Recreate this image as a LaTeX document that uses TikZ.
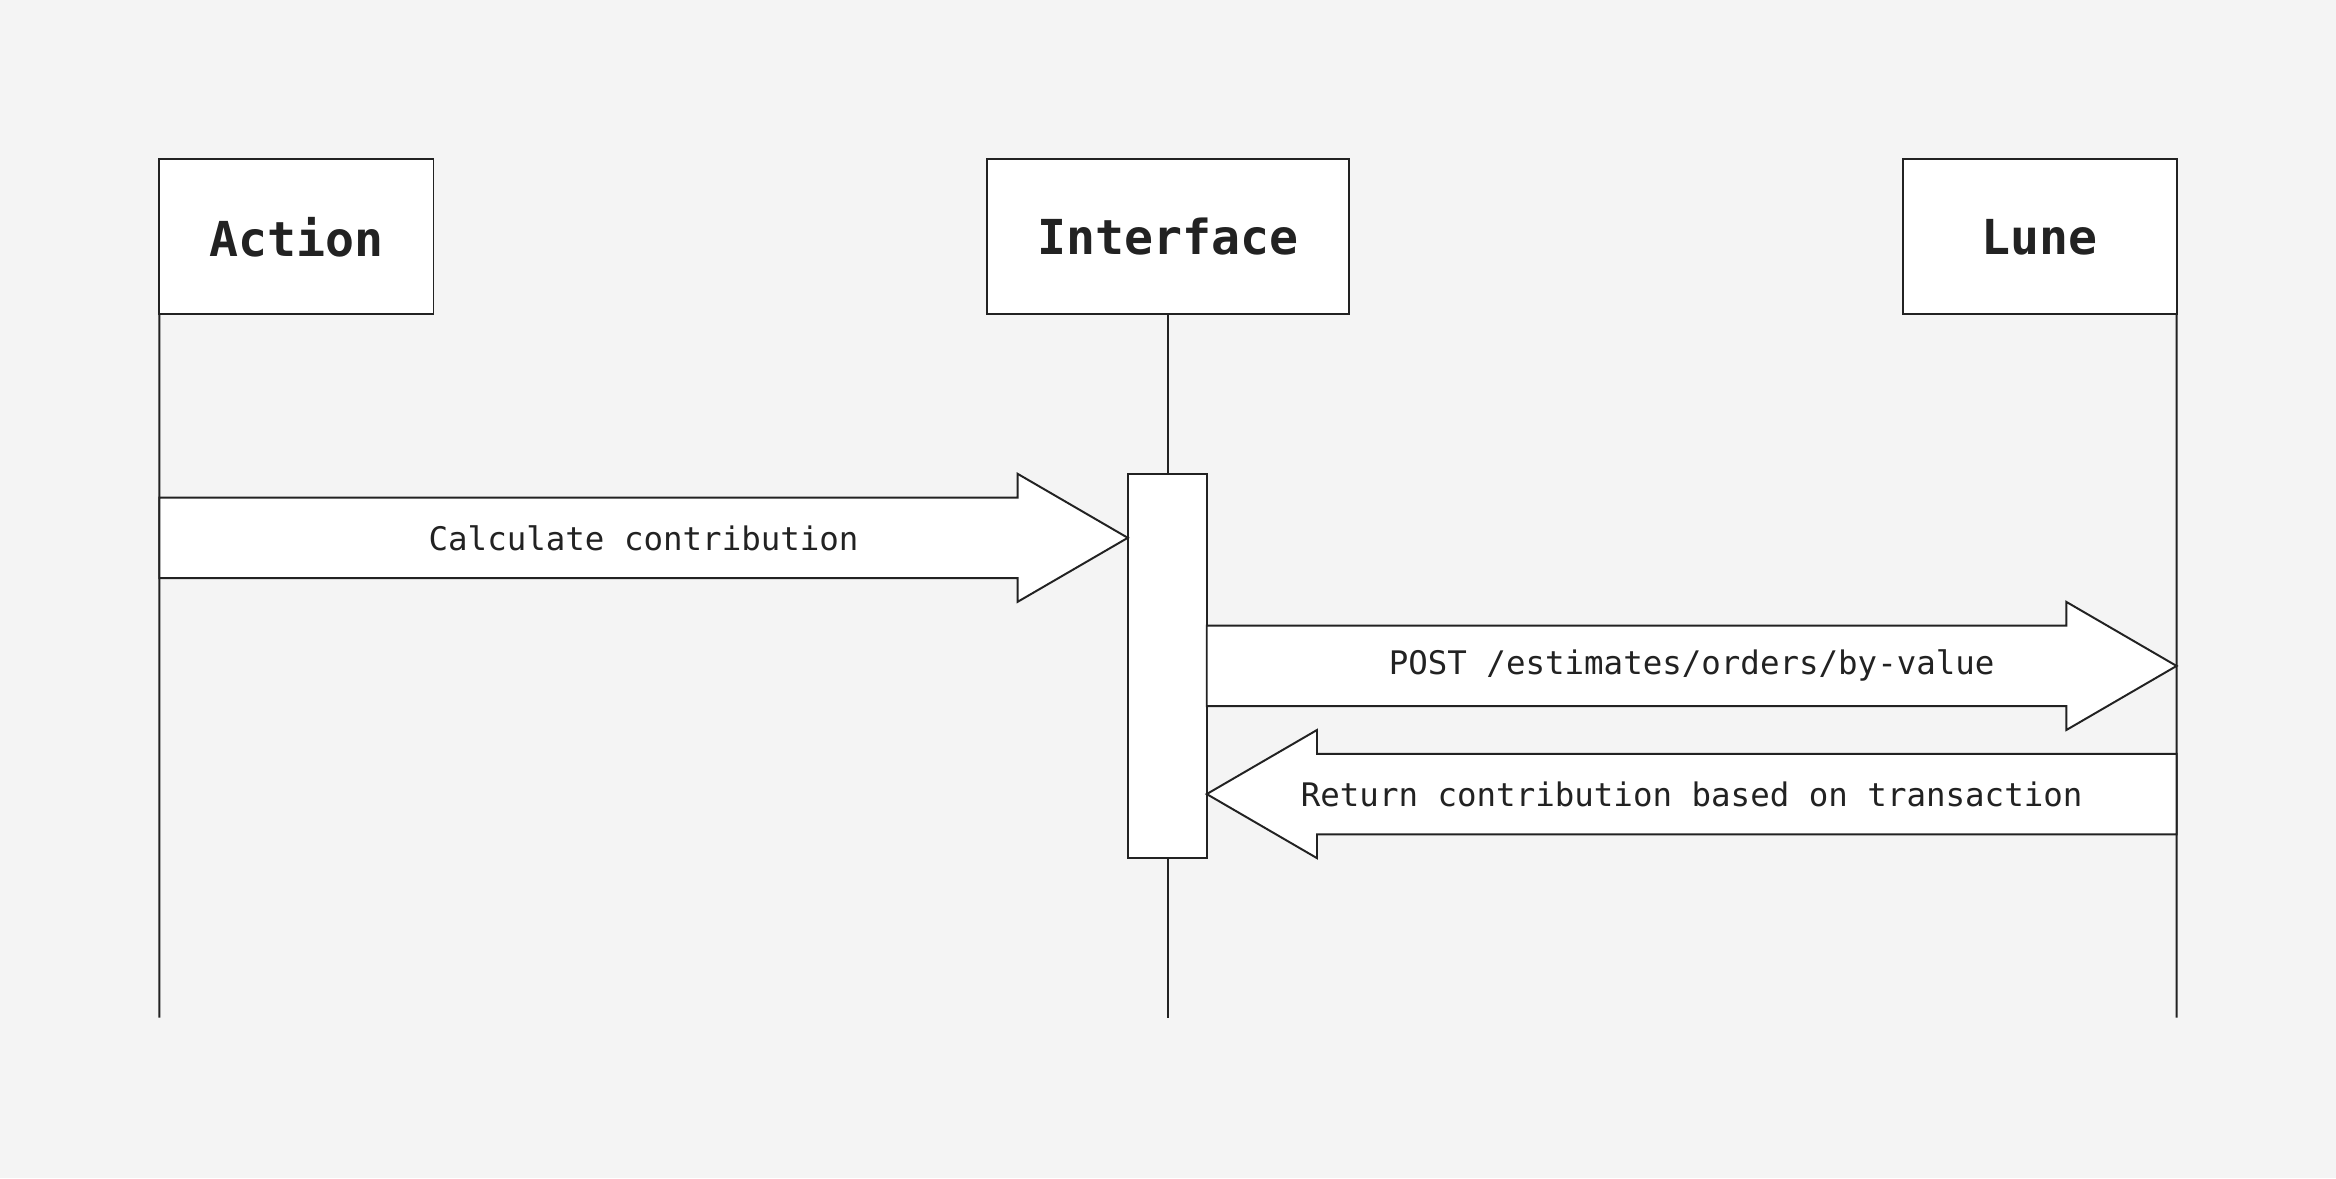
\documentclass[tikz,border=0pt]{standalone}
\usepackage{fontspec}
\newfontfamily\seqfont{DejaVu Sans Mono}
\usetikzlibrary{calc}
\definecolor{paper}{HTML}{F4F4F4}
\definecolor{ink}{HTML}{222222}
\tikzstyle{actor}=[rectangle,draw=ink,fill=white,line width=0.75pt,outer sep=0pt,minimum height=2.08cm,text=ink,font=\seqfont\bfseries\fontsize{18.4}{22}\selectfont]
\tikzstyle{lifeline}=[draw=ink,line width=0.75pt]
\tikzstyle{message}=[draw=ink,fill=white,line width=0.75pt,line join=miter]
\tikzstyle{msgtext}=[text=ink,inner sep=0pt,font=\seqfont\fontsize{12.4}{15}\selectfont]

\begin{document}
\begin{tikzpicture}[x=0.02cm, y=-0.02cm]
    \fill[paper] (0,0) rectangle (1568,791);
    % participants
    \node[actor, minimum width=3.68cm] (action) at (199,159) {Action};
    \node[actor, minimum width=4.86cm] (interface) at (784,159) {Interface};
    \node[actor, minimum width=3.68cm] (lune) at (1369,159) {Lune};
    \coordinate (action end) at (107,683);
    \coordinate (interface end) at (784,683);
    \coordinate (lune end) at (1461,683);
    % lifelines
    \draw[lifeline] (action.south west) -- (action end);
    \draw[lifeline] (lune.south east) -- (lune end);
    \draw[lifeline] (interface.south) -- (interface end);
    \node[actor, minimum width=1.06cm, minimum height=5.16cm] (activation) at (783.5,447) {};
    % messages
    \coordinate (calc src) at (action.south west |- 0,361);
    \coordinate (calc dst) at (activation.west |- 0,361);
    \coordinate (post src) at (activation.east |- 0,447);
    \coordinate (post dst) at (lune.south east |- 0,447);
    \coordinate (ret src) at (lune.south east |- 0,533);
    \coordinate (ret dst) at (activation.east |- 0,533);
    \foreach \from/\to/\dir/\msg [count=\i] in {
        calc src/calc dst/1/{Calculate contribution},
        post src/post dst/1/{POST /estimates/orders/by-value},
        ret src/ret dst/-1/{Return contribution based on transaction}} {
        \draw[message] ($(\from)+(0,-27)$) -- ($(\to)+({-74*\dir},-27)$) -- ($(\to)+({-74*\dir},-43)$)
            -- (\to) -- ($(\to)+({-74*\dir},43)$) -- ($(\to)+({-74*\dir},27)$) -- ($(\from)+(0,27)$) -- cycle;
        \node[msgtext] (msg\i) at ($(\from)!0.5!(\to)$) {\msg};
    };
\end{tikzpicture}
\end{document}
